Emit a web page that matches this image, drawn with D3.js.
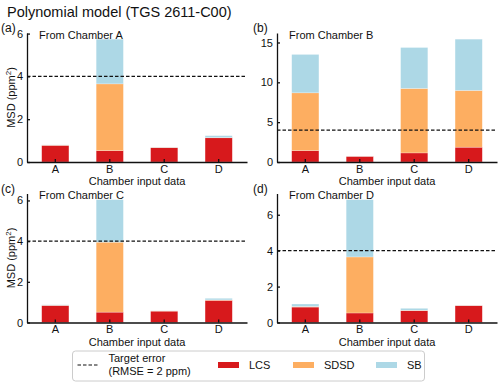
<!DOCTYPE html>
<html>
<meta charset="utf-8">
<title>Polynomial model</title>
<style>
  body { margin: 0; background: #fff; }
  svg { font-family: "Liberation Sans", Arial, sans-serif; }
  .axis path, .axis line { stroke: #111; stroke-width: 1.3; }
  .axis text { font-size: 11px; fill: #111; }
</style>
<script src="https://d3js.org/d3.v7.min.js"></script>
<body>
<script>
  // input chambers on the x axis
  var categories = ['A', 'B', 'C', 'D'];
  var seriesNames = ['LCS', 'SDSD', 'SB'];
  var colors = ['#d7191c', '#fdae61', '#add8e6'];

  // MSD components per panel (ppm^2)
  var lcsA = [0.78, 0.53, 0.67, 1.13];
  var sdsdA = [0.01, 3.12, 0.01, 0.01];
  var sbA = [0.01, 2.09, 0.01, 0.09];

  var lcsB = [1.43, 0.72, 1.14, 1.86];
  var sdsdB = [7.25, 0.01, 8.09, 7.12];
  var sbB = [4.82, 0.01, 5.14, 6.44];

  var lcsC = [0.84, 0.51, 0.56, 1.09];
  var sdsdC = [0.01, 3.44, 0.01, 0.02];
  var sbC = [0.02, 2.09, 0.01, 0.08];

  var lcsD = [0.86, 0.53, 0.66, 0.94];
  var sdsdD = [0.03, 3.12, 0.02, 0.01];
  var sbD = [0.14, 3.19, 0.11, 0.01];

  var targetMSD = 4;  // RMSE = 2 ppm

  var yTicksA = [0, 2, 4, 6], yTicksB = [0, 5, 10, 15];

  var panels = [
    {tag: '(a)', title: 'From Chamber A', lcs: lcsA, sdsd: sdsdA, sb: sbA, ticks: yTicksA, left: 27, top: 33, tagX: 1, ylab: true},
    {tag: '(b)', title: 'From Chamber B', lcs: lcsB, sdsd: sdsdB, sb: sbB, ticks: yTicksB, left: 277, top: 33, tagX: 253, ylab: false},
    {tag: '(c)', title: 'From Chamber C', lcs: lcsC, sdsd: sdsdC, sb: sbC, ticks: yTicksA, left: 27, top: 193.5, tagX: 1, ylab: true},
    {tag: '(d)', title: 'From Chamber D', lcs: lcsD, sdsd: sdsdD, sb: sbD, ticks: yTicksA, left: 277, top: 193.5, tagX: 253, ylab: false}
  ];

  var pw = 220, ph = 129;

  var svg = d3.select('body').append('svg')
      .attr('width', 500)
      .attr('height', 386);

  svg.append('text')
      .attr('x', 7)
      .attr('y', 17)
      .style('font-size', '14.5px')
      .style('fill', '#111')
      .text('Polynomial model (TGS 2611-C00)');

  panels.forEach(function(p) {
    var rows = categories.map(function(c, i) {
      return {cat: c, LCS: p.lcs[i], SDSD: p.sdsd[i], SB: p.sb[i]};
    });
    var stacked = d3.stack().keys(seriesNames)(rows);
    var ymax = d3.max(rows, function(d) { return d.LCS + d.SDSD + d.SB; }) * 1.05;

    var x = d3.scaleBand().domain(categories).range([0, pw])
        .paddingInner(0.5).paddingOuter(0.27);
    var y = d3.scaleLinear().domain([0, ymax]).range([ph, 0]);

    var g = svg.append('g')
        .attr('transform', 'translate(' + p.left + ',' + p.top + ')');

    g.selectAll('.layer')
      .data(stacked)
      .enter().append('g')
      .attr('fill', function(d, i) { return colors[i]; })
      .selectAll('rect')
      .data(function(d) { return d; })
      .enter().append('rect')
      .attr('x', function(d) { return x(d.data.cat); })
      .attr('width', x.bandwidth())
      .attr('y', function(d) { return y(d[1]); })
      .attr('height', function(d) { return y(d[0]) - y(d[1]); })
      .attr('stroke', '#fff')
      .attr('stroke-opacity', 0.5)
      .attr('stroke-width', 0.5);

    // target error line
    g.append('line')
      .attr('x1', 0).attr('x2', pw)
      .attr('y1', y(targetMSD)).attr('y2', y(targetMSD))
      .attr('stroke', '#111')
      .attr('stroke-width', 1.1)
      .attr('stroke-dasharray', '3.5,2');

    var xAxis = d3.axisBottom(x).tickSizeInner(-3).tickSizeOuter(0).tickPadding(3);
    var yAxis = d3.axisLeft(y).tickValues(p.ticks).tickFormat(d3.format('d'))
        .tickSizeInner(-3).tickSizeOuter(0).tickPadding(4);

    g.append('g').attr('class', 'axis')
      .attr('transform', 'translate(0,' + ph + ')')
      .call(xAxis);
    g.append('g').attr('class', 'axis').call(yAxis);

    g.append('text')
      .attr('x', pw / 2)
      .attr('y', ph + 23)
      .style('text-anchor', 'middle')
      .style('font-size', '11px')
      .style('fill', '#111')
      .text('Chamber input data');

    g.append('text')
      .attr('x', 12)
      .attr('y', 5.5)
      .style('font-size', '11px')
      .style('fill', '#111')
      .text(p.title);

    svg.append('text')
      .attr('x', p.tagX)
      .attr('y', p.top - 1)
      .style('font-size', '12px')
      .style('fill', '#111')
      .text(p.tag);

    if (p.ylab) {
      var t = g.append('text')
        .attr('transform', 'translate(' + (-p.left + 14.5) + ',' + (ph / 2) + ') rotate(-90)')
        .style('text-anchor', 'middle')
        .style('font-size', '11px')
        .style('fill', '#111');
      t.append('tspan').text('MSD (ppm');
      t.append('tspan').attr('dy', -4).style('font-size', '8px').text('2');
      t.append('tspan').attr('dy', 4).text(')');
    }
  });

  // legend
  var leg = svg.append('g').attr('transform', 'translate(72.5,351)');
  leg.append('rect')
    .attr('width', 352).attr('height', 30)
    .attr('rx', 3)
    .attr('fill', '#fff')
    .attr('stroke', '#ccc')
    .attr('stroke-width', 1);
  leg.append('line')
    .attr('x1', 5).attr('x2', 25).attr('y1', 14).attr('y2', 14)
    .attr('stroke', '#111').attr('stroke-width', 1.1)
    .attr('stroke-dasharray', '3.5,2');
  leg.append('text').attr('x', 36).attr('y', 11)
    .style('font-size', '11px').style('fill', '#111').text('Target error');
  leg.append('text').attr('x', 36).attr('y', 24)
    .style('font-size', '11px').style('fill', '#111').text('(RMSE = 2 ppm)');

  var swX = [145.5, 220.5, 303.5];
  seriesNames.forEach(function(s, i) {
    leg.append('rect')
      .attr('x', swX[i]).attr('y', 11)
      .attr('width', 21).attr('height', 6)
      .attr('fill', colors[i]);
    leg.append('text')
      .attr('x', swX[i] + 31).attr('y', 18)
      .style('font-size', '11px').style('fill', '#111')
      .text(s);
  });
</script>
</body>
</html>
